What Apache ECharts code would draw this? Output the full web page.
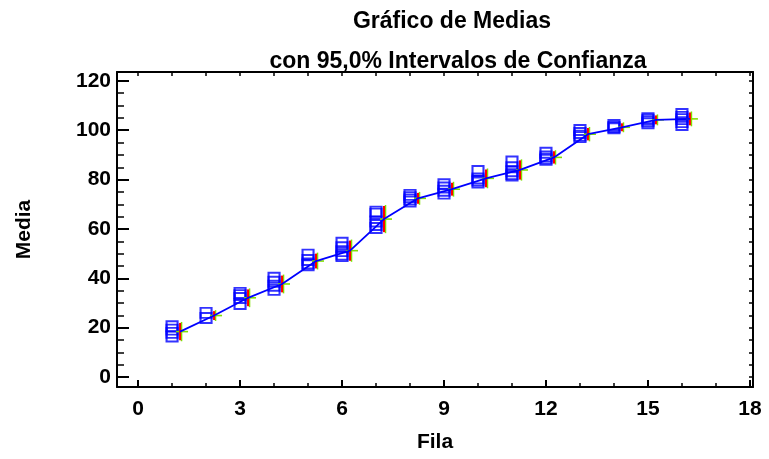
<!DOCTYPE html>
<html>
<head>
<meta charset="utf-8">
<script src="https://cdn.jsdelivr.net/npm/echarts@6/dist/echarts.min.js"></script>
<style>
  html, body { margin: 0; padding: 0; background: #fff; }
  #chart { width: 769px; height: 459px; }
</style>
</head>
<body>
<div id="chart"></div>
<script>
// Row numbers (Fila)
const filas = [1, 2, 3, 4, 5, 6, 7, 8, 9, 10, 11, 12, 13, 14, 15, 16];

// Group means (Media)
const medias = [18.4, 24.9, 32.1, 37.7, 47.0, 51.2, 64.0, 72.4, 76.1, 80.5, 83.9, 89.0, 98.4, 101.2, 104.2, 104.6];

// Half-width of the 95% confidence interval for each mean
const semiIntervalo = [3.5, 1.8, 3.4, 3.4, 3.0, 4.1, 5.3, 2.2, 2.6, 3.6, 3.9, 2.5, 2.5, 1.6, 1.8, 2.6];

// Individual observations for each row
const observaciones = [
  [20.6, 19.2, 17.9, 16.4],
  [26.0, 23.9],
  [34.1, 33.2, 32.0, 29.6],
  [40.2, 38.6, 37.0, 35.3],
  [49.6, 47.4, 46.0, 45.3],
  [54.4, 52.6, 51.0, 49.6, 49.0],
  [67.0, 66.2, 63.0, 61.6, 60.4],
  [73.8, 72.9, 72.0, 71.1],
  [78.1, 76.8, 75.5, 74.3],
  [83.5, 80.5, 79.6, 78.8],
  [87.3, 85.0, 83.4, 82.2, 81.6],
  [90.9, 89.4, 88.6, 88.0],
  [100.1, 98.9, 97.8, 97.2],
  [102.1, 101.3, 100.8],
  [104.9, 104.3, 103.6, 102.8],
  [106.6, 105.4, 104.5, 103.3, 102.1]
];

// Axis tick labels
const xTicks = [0, 3, 6, 9, 12, 15, 18];
const yTicks = [0, 20, 40, 60, 80, 100, 120];

// ---- derived series data ----
const xMinor = [];
for (let v = 0; v <= 18; v++) xMinor.push(v);
const yMinor = [];
for (let v = 0; v <= 120; v += 5) yMinor.push(v);

const MEAN_SHIFT = 0.235; // means/intervals are drawn just right of the observations

const puntos = [];
observaciones.forEach((obs, i) => obs.forEach(v => puntos.push([filas[i], v])));
const lineaMedias = filas.map((f, i) => [f + MEAN_SHIFT, medias[i]]);
const intervalos = filas.map((f, i) => [f + MEAN_SHIFT, medias[i], semiIntervalo[i]]);

const FONT = '"Liberation Sans", Arial, sans-serif';
const X_MIN = -0.62, X_MAX = 18.09;
const Y_MIN = -4.05, Y_MAX = 123.6;
const frameLine = { show: true, onZero: false, lineStyle: { color: '#000', width: 2 } };
const noLine = { show: false, onZero: false };
const labelFont = { fontFamily: FONT, fontWeight: 'bold', fontSize: 21, color: '#000' };
const titleFont = { fontFamily: FONT, fontWeight: 'bold', fontSize: 23, color: '#000' };

const chart = echarts.init(document.getElementById('chart'), null, { renderer: 'canvas' });

chart.setOption({
  animation: false,
  backgroundColor: '#fff',
  title: [
    { text: 'Gráfico de Medias', left: 447, top: 5, textAlign: 'center', textStyle: titleFont },
    { text: 'con 95,0% Intervalos de Confianza', left: 453, top: 45, textAlign: 'center', textStyle: titleFont }
  ],
  grid: { left: 117, right: 16, top: 72, bottom: 72, containLabel: false, outerBoundsMode: 'none' },
  xAxis: [
    { type: 'value', position: 'bottom', min: X_MIN, max: X_MAX,
      name: 'Fila', nameLocation: 'middle', nameGap: 45,
      nameTextStyle: labelFont,
      axisLine: frameLine,
      axisTick: { show: true, inside: true, length: 7, customValues: xTicks, lineStyle: { color: '#000', width: 2 } },
      axisLabel: Object.assign({ show: true, customValues: xTicks, margin: 12 }, labelFont),
      splitLine: { show: false } },
    { type: 'value', position: 'bottom', min: X_MIN, max: X_MAX,
      axisLine: noLine,
      axisTick: { show: true, inside: true, length: 4, customValues: xMinor, lineStyle: { color: '#000', width: 1.5 } },
      axisLabel: { show: false }, splitLine: { show: false } },
    { type: 'value', position: 'top', min: X_MIN, max: X_MAX,
      axisLine: frameLine,
      axisTick: { show: true, inside: true, length: 4, customValues: xMinor, lineStyle: { color: '#000', width: 1.5 } },
      axisLabel: { show: false }, splitLine: { show: false } }
  ],
  yAxis: [
    { type: 'value', position: 'left', min: Y_MIN, max: Y_MAX,
      name: 'Media', nameLocation: 'middle', nameGap: 82, nameRotate: 90,
      nameTextStyle: labelFont,
      axisLine: frameLine,
      axisTick: { show: true, inside: true, length: 12, customValues: yTicks, lineStyle: { color: '#000', width: 2 } },
      axisLabel: Object.assign({ show: true, customValues: yTicks, margin: 6 }, labelFont),
      splitLine: { show: false } },
    { type: 'value', position: 'left', min: Y_MIN, max: Y_MAX,
      axisLine: noLine,
      axisTick: { show: true, inside: true, length: 7, customValues: yMinor, lineStyle: { color: '#000', width: 1.5 } },
      axisLabel: { show: false }, splitLine: { show: false } },
    { type: 'value', position: 'right', min: Y_MIN, max: Y_MAX,
      axisLine: frameLine,
      axisTick: { show: true, inside: true, length: 4, customValues: yMinor, lineStyle: { color: '#000', width: 1.5 } },
      axisLabel: { show: false }, splitLine: { show: false } }
  ],
  series: [
    {
      // individual observations
      type: 'scatter', xAxisIndex: 0, yAxisIndex: 0,
      data: puntos, symbol: 'rect', symbolSize: [11, 10],
      itemStyle: { color: 'rgba(0,0,0,0)', borderColor: '#0000ff', borderWidth: 2 },
      z: 3
    },
    {
      // confidence intervals and mean markers
      type: 'custom', xAxisIndex: 0, yAxisIndex: 0,
      data: intervalos,
      renderItem: function (params, api) {
        const x = api.value(0), m = api.value(1), h = api.value(2);
        const c = api.coord([x, m]);
        const top = api.coord([x, m + h]);
        const bot = api.coord([x, m - h]);
        return {
          type: 'group',
          children: [
            { type: 'line', shape: { x1: c[0] - 4, y1: c[1], x2: c[0] + 8, y2: c[1] },
              style: { stroke: '#7fe000', lineWidth: 1.6 } },
            { type: 'line', shape: { x1: c[0] + 1.5, y1: top[1] - 1, x2: c[0] + 1.5, y2: bot[1] + 1 },
              style: { stroke: '#7fe000', lineWidth: 1.5 } },
            { type: 'line', shape: { x1: c[0], y1: top[1], x2: c[0], y2: bot[1] },
              style: { stroke: '#ff0000', lineWidth: 2 } }
          ]
        };
      },
      z: 4
    },
    {
      // line through the means
      type: 'line', xAxisIndex: 0, yAxisIndex: 0,
      data: lineaMedias, showSymbol: false, symbol: 'none',
      lineStyle: { color: '#0000ff', width: 1.8 },
      z: 5
    }
  ]
});
</script>
</body>
</html>
